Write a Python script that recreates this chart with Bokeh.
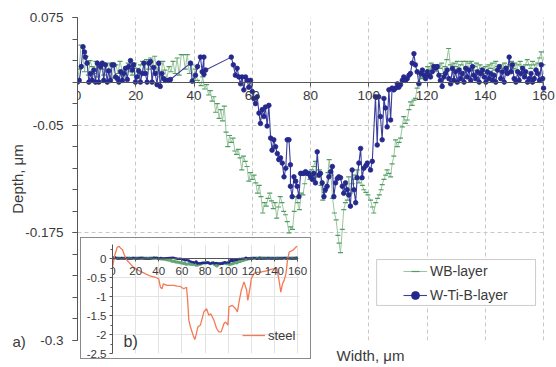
from bokeh.plotting import figure
from bokeh.models import (FixedTicker, Legend, LegendItem, Label, BoxAnnotation, Range1d)
from bokeh.embed import file_html
from bokeh.resources import INLINE

FONT = "Liberation Sans"

# ---------------- data ----------------
x_ticks = [0, 20, 40, 60, 80, 100, 120, 140, 160]
y_ticks = [0.075, -0.05, -0.175, -0.3]
y_tick_labels = ["0.075", "-0.05", "-0.175", "-0.3"]
inset_y_ticks = [0, -0.5, -1, -1.5, -2, -2.5]
inset_y_labels = ["0", "-0.5", "-1", "-1.5", "-2", "-2.5"]

wb_x = [
    0, 0.6, 1.2, 1.8, 2.4, 3.0, 3.7, 4.3, 5.0, 5.6,
    6.3, 7.0, 7.6, 8.3, 9.0, 9.7, 10.4, 11.1, 11.8, 12.5,
    13.2, 13.9, 14.6, 15.3, 16.0, 16.7, 17.4, 18.1, 18.8, 19.5,
    20.2, 20.9, 21.6, 22.3, 23.0, 23.7, 24.4, 25.1, 25.8, 26.5,
    27.2, 27.9, 28.6, 29.3, 30.0, 30.7, 31.4, 32.1, 32.8, 33.5,
    34.2, 34.9, 35.6, 36.3, 37.0, 37.7, 38.4, 39.1, 39.8, 40.5,
    41.2,
    42.4, 43.0, 43.6, 44.3, 45.0, 45.6, 46.2, 46.8, 47.4, 48.0,
    48.6, 49.2, 49.8, 50.4, 51.0, 51.6, 52.2, 52.8, 53.4, 54.0,
    54.6, 55.2, 55.8, 56.4, 57.0, 57.6, 58.2, 58.8, 59.4, 60.0,
    60.6, 61.2, 61.8, 62.4, 63.0, 63.6, 64.2, 64.8, 65.4, 66.0,
    66.6, 67.2, 67.8, 68.4, 69.0, 69.6, 70.2, 70.8, 71.4, 72.0,
    72.6, 73.2, 73.8, 74.4, 75.0, 75.6, 76.2, 76.8, 77.4, 78.0,
    78.6, 79.2, 79.8, 80.4, 81.0, 81.7, 82.4, 83.0, 83.6, 84.2,
    84.8, 85.4, 86.0, 86.4, 87.0, 87.6, 88.2, 88.8, 89.4, 89.8,
    90.3, 90.9, 91.4, 92.0, 92.6, 93.1, 93.7, 94.3, 94.9, 95.5,
    96.0, 96.6, 97.2, 97.8, 98.3, 99.0, 99.7, 100.6, 101.2, 101.7,
    102.4, 103.0, 103.6, 104.2, 104.6, 105.2, 105.8, 106.3, 106.9, 107.5,
    108.0, 108.6, 109.2, 109.8, 110.4, 110.9, 111.5, 112.0, 112.6, 113.2,
    113.8, 114.3, 114.9, 115.5, 116.0, 116.6, 117.2, 117.8, 118.4, 119.0,
    119.6,
    120.2, 120.8, 121.4, 122.0, 122.6, 123.2, 123.8, 124.4, 125.0, 125.6,
    126.2, 126.8, 127.4, 128.0, 128.6, 129.2, 129.8, 130.4, 131.0, 131.6,
    132.2, 132.8, 133.4, 134.0, 134.6, 135.2, 135.8, 136.4, 137.0, 137.6,
    138.2, 138.8, 139.4, 140.0, 140.6, 141.2, 141.8, 142.4, 143.0, 143.6,
    144.2, 144.8, 145.4, 146.0, 146.6, 147.2, 147.8, 148.4, 149.0, 149.6,
    150.2, 150.8, 151.4, 152.0, 152.6, 153.2, 153.8, 154.4, 155.0, 155.6,
    156.2, 156.8, 157.4, 158.0, 158.6, 159.2, 159.8,
]
wb_y = [
    0.002, 0.015, 0.043, 0.040, 0.012, 0.030, 0.008, 0.025, 0.018, 0.010,
    0.024, 0.006, 0.022, 0.015, 0.008, 0.020, 0.012, 0.022, 0.005, 0.018,
    0.020, 0.010, 0.024, 0.014, 0.006, 0.018, 0.022, 0.012, 0.008, 0.022,
    0.016, 0.006, 0.020, 0.024, 0.010, 0.026, 0.015, 0.028, 0.018, 0.030,
    0.012, 0.020, 0.006, 0.024, 0.014, 0.004, 0.018, 0.012, 0.024, 0.010,
    0.028, 0.008, 0.032, 0.032, 0.015, 0.032, 0.010, 0.020, 0.004, 0.015,
    0.002,
    -0.004, 0.006, -0.008, -0.003, -0.015, -0.010, -0.022, -0.017, -0.035, -0.025,
    -0.042, -0.032, -0.045, -0.028, -0.058, -0.075, -0.062, -0.070, -0.065, -0.080,
    -0.084, -0.078, -0.088, -0.102, -0.086, -0.092, -0.098, -0.115, -0.105, -0.113,
    -0.108, -0.117, -0.129, -0.120, -0.133, -0.152, -0.140, -0.144, -0.135, -0.129,
    -0.138, -0.147, -0.140, -0.158, -0.145, -0.133, -0.140, -0.150, -0.154, -0.162,
    -0.175, -0.168, -0.171, -0.150, -0.133, -0.140, -0.148, -0.129, -0.131, -0.118,
    -0.104, -0.108, -0.113, -0.102, -0.098, -0.092, -0.110, -0.102, -0.120, -0.137,
    -0.128, -0.121, -0.105, -0.090, -0.108, -0.135, -0.152, -0.160, -0.178, -0.187,
    -0.198, -0.171, -0.148, -0.140, -0.137, -0.110, -0.129, -0.118, -0.113, -0.108,
    -0.102, -0.117, -0.112, -0.120, -0.125, -0.128, -0.131, -0.137, -0.145, -0.152,
    -0.140, -0.135, -0.131, -0.125, -0.119, -0.113, -0.108, -0.102, -0.106, -0.110,
    -0.095, -0.086, -0.067, -0.075, -0.070, -0.065, -0.052, -0.040, -0.048, -0.044,
    -0.032, -0.023, -0.027, -0.021, -0.019, -0.007, -0.002, 0.006, 0.004, 0.012,
    0.010,
    0.018, 0.014, 0.022, 0.016, 0.020, 0.012, 0.020, 0.016, 0.022, 0.010,
    0.018, 0.026, 0.039, 0.020, 0.014, 0.022, 0.018, 0.024, 0.016, 0.020,
    0.024, 0.012, 0.024, 0.016, 0.022, 0.024, 0.014, 0.018, 0.022, 0.012,
    0.020, 0.016, 0.010, 0.018, 0.012, 0.020, 0.016, 0.022, 0.014, 0.024,
    0.018, 0.012, 0.020, 0.016, 0.022, 0.018, 0.012, 0.020, 0.024, 0.016,
    0.022, 0.014, 0.020, 0.024, 0.018, 0.012, 0.020, 0.026, 0.020, 0.016,
    0.024, 0.020, 0.014, 0.022, 0.028, 0.035, 0.020,
]

wtib_x = [
    0.0, 0.6, 1.3, 1.9, 2.4, 2.7, 3.3, 3.9, 4.5, 5.0,
    5.6, 6.2, 6.8, 7.3, 7.9, 8.5, 9.0, 9.6, 10.2, 10.7,
    11.3, 11.9, 12.5, 13.1, 13.7, 14.2, 14.8, 15.4, 15.9, 16.5,
    17.1, 17.6, 18.2, 18.8, 19.3, 19.9, 20.4, 21.0, 21.6, 22.2,
    22.8, 23.3, 23.9, 24.5, 25.1, 25.6, 26.2, 26.7, 27.3, 27.9,
    28.4, 29.0, 29.6, 30.2, 31.3, 31.9, 38.8, 39.4, 40.5, 41.2,
    42.2, 42.8, 43.4, 43.4, 44.0, 52.8, 53.5, 54.2, 54.8, 55.4,
    56.0, 56.5, 57.1, 57.7, 58.3, 58.8, 59.4, 60.0, 60.5, 61.1,
    61.7, 62.3, 62.8, 63.4, 64.0, 64.5, 65.1, 65.7, 66.3, 66.8,
    67.4, 68.0, 68.6, 69.1, 69.7, 70.3, 70.9, 71.5, 72.0, 72.6,
    73.1, 73.1, 73.7, 74.3, 74.9, 75.4, 76.0, 76.6, 77.1, 77.7,
    78.3, 78.9, 79.4, 80.0, 80.6, 81.1, 81.7, 82.3, 82.9, 83.4,
    84.0, 84.6, 85.1, 85.7, 86.3, 86.9, 87.5, 88.0, 88.6, 89.2,
    89.7, 90.3, 90.9, 91.4, 92.0, 92.6, 93.1, 93.7, 94.3, 94.9,
    95.5, 96.0, 96.6, 97.2, 97.7, 98.3, 99.0, 99.5, 100.6, 101.2,
    102.3, 102.9, 103.4, 104.0, 104.6, 105.2, 105.7, 106.3, 106.9, 107.5,
    108.0, 108.6, 109.2, 109.8, 110.3, 110.9, 111.5, 112.0, 112.6, 113.2,
    113.8, 114.3, 114.9, 115.5, 116.0, 116.6, 117.2, 117.8, 118.4, 119.0,
    119.5, 120.1, 120.6, 121.2, 121.8, 122.3, 122.9, 123.5, 124.1, 124.6,
    125.2, 125.8, 126.3, 126.9, 127.5, 128.1, 128.7, 129.2, 129.8, 130.4,
    131.0, 131.5, 132.1, 132.7, 133.3, 133.8, 134.4, 135.0, 135.6, 136.1,
    136.7, 137.3, 137.9, 138.4, 139.0, 139.6, 140.2, 140.7, 141.3, 141.9,
    142.5, 143.0, 143.6, 144.2, 144.8, 145.3, 145.9, 146.5, 147.1, 147.6,
    148.2, 148.8, 149.3, 149.9, 150.5, 151.1, 151.6, 152.2, 152.8, 153.4,
    153.9, 154.5, 155.1, 155.7, 156.2, 156.8, 157.4, 158.0, 158.6, 159.2,
    159.7, 160.0,
]
wtib_y = [
    0.0, 0.002, 0.018, 0.041, 0.035, 0.029, 0.022, 0.0, 0.010, 0.002,
    0.014, 0.0, 0.022, 0.0, 0.018, 0.022, 0.002, 0.020, 0.0, 0.013,
    0.002, 0.020, 0.020, 0.006, 0.004, 0.0, 0.012, 0.002, 0.010, 0.016,
    0.003, 0.018, 0.025, 0.014, 0.020, 0.0, 0.006, 0.013, 0.0, 0.010,
    0.022, 0.010, 0.0, 0.022, 0.024, 0.0, 0.017, 0.010, -0.003, 0.022,
    -0.005, 0.010, 0.004, 0.002, 0.002, 0.003, 0.022, 0.001, 0.008, 0.018,
    0.029, 0.012, 0.029, 0.009, 0.014, 0.029, 0.020, 0.008, 0.016, 0.006,
    -0.002, 0.006, -0.009, 0.006, 0.002, -0.006, 0.002, -0.011, -0.019, -0.025,
    -0.017, -0.036, -0.048, -0.032, -0.040, -0.029, -0.051, -0.027, -0.065, -0.079,
    -0.067, -0.075, -0.083, -0.090, -0.088, -0.094, -0.110, -0.100, -0.067, -0.067,
    -0.096, -0.121, -0.133, -0.110, -0.115, -0.121, -0.133, -0.106, -0.106, -0.106,
    -0.104, -0.106, -0.106, -0.110, -0.113, -0.106, -0.117, -0.081, -0.108, -0.106,
    -0.117, -0.133, -0.125, -0.121, -0.110, -0.104, -0.098, -0.133, -0.117, -0.112,
    -0.110, -0.111, -0.121, -0.129, -0.117, -0.125, -0.131, -0.144, -0.102, -0.125,
    -0.140, -0.111, -0.094, -0.077, -0.111, -0.100, -0.097, -0.094, -0.102, -0.092,
    -0.017, -0.073, -0.017, -0.040, -0.067, -0.019, -0.030, -0.052, -0.009, -0.044,
    -0.007, -0.009, -0.007, -0.002, -0.006, -0.003, 0.002, 0.006, 0.002, 0.004,
    0.008, 0.010, 0.022, 0.033, 0.020, 0.012, -0.002, 0.010, 0.014, 0.008,
    0.004, 0.012, 0.008, 0.006, 0.012, 0.018, 0.016, 0.018, 0.008, 0.002,
    -0.005, 0.006, 0.010, 0.014, 0.004, -0.002, 0.016, 0.002, 0.012, 0.0,
    0.014, 0.004, 0.010, 0.0, 0.016, 0.006, 0.014, 0.002, 0.018, 0.008,
    0.004, 0.012, 0.0, 0.010, 0.014, 0.006, 0.0, 0.012, 0.004, 0.010,
    0.002, 0.008, 0.0, 0.014, 0.018, 0.004, 0.012, 0.0, 0.016, 0.010,
    0.029, 0.012, 0.020, 0.004, 0.0, 0.012, 0.002, 0.010, 0.016, 0.006,
    0.012, 0.0, 0.004, 0.010, 0.0, 0.004, 0.014, 0.010, 0.002, 0.020,
    0.004, -0.007,
]

steel_x = [
    0, 2, 4, 5.8, 7, 8.7, 10, 12, 15, 18,
    21, 24, 27, 30, 33, 35.6, 38, 40, 41.4, 42.8,
    44, 47, 50, 53, 56, 58.7, 61.6, 64, 65, 66,
    67.4, 69.7, 71.2, 72.6, 73.8, 76, 79, 81.3, 83.3, 85,
    87.7, 90, 92, 94, 96.4, 97.8, 99.8, 100.7, 103.6, 106.5,
    108, 109.4, 111.4, 113.7, 116, 117, 119, 120, 122.4, 125,
    128, 131, 134, 137, 139.8, 142, 144, 145.5, 147, 148.4,
    150, 151.3, 152.8, 155.7, 157, 159.4,
]
steel_y = [
    -0.22, 0.1, 0.3, 0.33, 0.28, 0.24, 0.12, -0.02, -0.12, -0.22,
    -0.28, -0.33, -0.37, -0.42, -0.46, -0.48, -0.5, -0.53, -0.75, -0.79,
    -0.66, -0.7, -0.7, -0.7, -0.72, -0.73, -0.79, -0.75, -1.1, -1.62,
    -1.8, -2.02, -2.13, -1.97, -1.8, -1.75, -1.4, -1.32, -1.49, -1.45,
    -1.62, -1.84, -1.93, -1.93, -1.71, -1.67, -1.75, -1.27, -1.23, -1.32,
    -1.4, -1.14, -0.83, -0.61, -0.83, -1.1, -0.75, -0.53, -0.38, -0.36,
    -0.35, -0.33, -0.31, -0.28, -0.26, -0.24, -0.57, -0.88, -0.66, -0.57,
    -0.39, -0.04, 0.18, 0.22, 0.26, 0.33,
]

assert len(wb_x) == len(wb_y)
assert len(wtib_x) == len(wtib_y)
assert len(steel_x) == len(steel_y)

# ---------------- colours ----------------
GREEN_LINE = "#9cc49f"
GREEN_MARK = "#4f9d62"
BLUE_LINE = "#3b3e9c"
BLUE_MARK = "#25288c"
STEEL = "#f47a56"
TXT = "#3a3a3a"
AX = "#555555"

# ---------------- main figure ----------------
# x range runs a little past 160 so the "160" tick label is not clipped
p = figure(width=556, height=367, x_range=Range1d(0, 164.1), y_range=Range1d(-0.3, 0.075),
           output_backend="svg", toolbar_location=None,
           min_border_left=77, min_border_right=1, min_border_top=17, min_border_bottom=27)
p.background_fill_color = "white"
p.border_fill_color = "white"
p.outline_line_color = None

xa = p.xaxis[0]
xa.fixed_location = 0
xa.bounds = (0, 160)
xa.ticker = FixedTicker(ticks=x_ticks)
xa.axis_line_color = AX
xa.major_tick_line_color = AX
xa.major_tick_out = 4
xa.major_tick_in = 0
xa.minor_tick_line_color = None
xa.major_label_standoff = 5
xa.major_label_text_font = FONT
xa.major_label_text_font_size = "13.5px"
xa.major_label_text_color = TXT

minor_y = [round(-0.3 + 0.025 * i, 3) for i in range(16)]
ya = p.yaxis[0]
ya.ticker = FixedTicker(ticks=y_ticks, minor_ticks=minor_y)
ya.major_label_overrides = dict(zip(y_ticks, y_tick_labels))
ya.axis_line_color = AX
ya.major_tick_line_color = AX
ya.minor_tick_line_color = AX
ya.major_tick_out = 5
ya.major_tick_in = 0
ya.minor_tick_out = 5
ya.minor_tick_in = 0
ya.major_label_standoff = 9
ya.major_label_text_font = FONT
ya.major_label_text_font_size = "13.5px"
ya.major_label_text_color = TXT
ya.axis_label = "Depth, μm"
ya.axis_label_text_font = FONT
ya.axis_label_text_font_size = "15px"
ya.axis_label_text_font_style = "normal"
ya.axis_label_text_color = TXT
ya.axis_label_standoff = -4

p.xgrid[0].bounds = (0, 160)
p.ygrid[0].cross_bounds = (0, 160)
for g in (p.xgrid[0], p.ygrid[0]):
    g.grid_line_color = "#c8c8c8"
    g.grid_line_dash = "4 3"
    g.grid_line_width = 1

r_wb_line = p.line(wb_x, wb_y, line_color=GREEN_LINE, line_width=1)
r_wb_pts = p.scatter(wb_x, wb_y, marker="dash", size=5, line_color=GREEN_MARK, line_width=1.2)
r_wt_line = p.line(wtib_x, wtib_y, line_color=BLUE_LINE, line_width=1.1)
r_wt_pts = p.scatter(wtib_x, wtib_y, marker="circle", size=4.6, fill_color=BLUE_MARK,
                     line_color=BLUE_MARK, line_width=0.8)

# legend frame + legend
p.add_layout(BoxAnnotation(left=102.7, right=157.25, top=-0.206, bottom=-0.2593,
                           fill_color="white", fill_alpha=1.0,
                           line_color="#555555", line_width=1))
leg = Legend(items=[LegendItem(label="WB-layer", renderers=[r_wb_line, r_wb_pts]),
                    LegendItem(label="W-Ti-B-layer", renderers=[r_wt_line, r_wt_pts])],
             location=(326, 35), border_line_color=None, background_fill_alpha=0,
             padding=0, margin=0, spacing=4, glyph_width=24, glyph_height=20,
             label_height=20, label_standoff=3,
             label_text_font=FONT, label_text_font_size="14px", label_text_color=TXT)
p.add_layout(leg)

# ---------------- inset ----------------
ins = figure(width=231, height=122, x_range=Range1d(0, 171.2), y_range=Range1d(-2.5, 0.3775),
             output_backend="svg", toolbar_location=None,
             min_border_left=31, min_border_right=2, min_border_top=6, min_border_bottom=7,
             styles={"position": "absolute", "left": "80px", "top": "237px",
                     "border": "1px solid #8a8a8a", "z-index": "5"})
ins.background_fill_color = "white"
ins.border_fill_color = "white"
ins.outline_line_color = None

ixa = ins.xaxis[0]
ixa.fixed_location = 0
ixa.bounds = (0, 160)
ixa.ticker = FixedTicker(ticks=x_ticks)
ixa.axis_line_color = AX
ixa.major_tick_line_color = AX
ixa.major_tick_out = 3
ixa.major_tick_in = 0
ixa.minor_tick_line_color = None
ixa.major_label_standoff = 5
ixa.major_label_text_font = FONT
ixa.major_label_text_font_size = "11.5px"
ixa.major_label_text_color = TXT

minor_iy = [-2.25, -1.75, -1.25, -0.75, -0.25, 0.25]
iya = ins.yaxis[0]
iya.ticker = FixedTicker(ticks=inset_y_ticks, minor_ticks=minor_iy)
iya.major_label_overrides = dict(zip(inset_y_ticks, inset_y_labels))
iya.axis_line_color = AX
iya.major_tick_line_color = AX
iya.minor_tick_line_color = AX
iya.major_tick_out = 3
iya.major_tick_in = 0
iya.minor_tick_out = 2
iya.minor_tick_in = 0
iya.major_label_standoff = 3
iya.major_label_text_font = FONT
iya.major_label_text_font_size = "11.5px"
iya.major_label_text_color = TXT

ins.ygrid[0].cross_bounds = (0, 162)
for g in (ins.xgrid[0], ins.ygrid[0]):
    g.grid_line_color = "#e3e3e3"
    g.grid_line_width = 1

ins.line(wb_x, wb_y, line_color="#5fa873", line_width=3)
ins.line(wtib_x, wtib_y, line_color=BLUE_MARK, line_width=2.2)
r_steel = ins.line(steel_x, steel_y, line_color=STEEL, line_width=1.3)

ins_leg = Legend(items=[LegendItem(label="steel", renderers=[r_steel])],
                 location=(130, 8), border_line_color=None, background_fill_alpha=0,
                 padding=0, margin=0, glyph_width=23, glyph_height=20, label_height=20,
                 label_standoff=3, label_text_font=FONT, label_text_font_size="13px",
                 label_text_color=TXT)
ins.add_layout(ins_leg)
ins.add_layout(Label(x=9.5, y=-2.18, text="b)", text_align="left", text_baseline="middle",
                     text_font=FONT, text_font_size="16px", text_color=TXT))

# ---------------- transparent text layer (page-pixel coordinates) ----------------
ov = figure(width=556, height=367, x_range=Range1d(0, 556), y_range=Range1d(367, 0),
            output_backend="svg", toolbar_location=None,
            x_axis_location=None, y_axis_location=None,
            min_border_left=0, min_border_right=0, min_border_top=0, min_border_bottom=0,
            styles={"position": "absolute", "left": "0px", "top": "0px", "z-index": "6",
                    "pointer-events": "none"})
ov.background_fill_alpha = 0
ov.border_fill_alpha = 0
ov.outline_line_color = None
ov.grid.visible = False
ov.add_layout(Label(x=370, y=355, text="Width, μm", text_align="center",
                    text_baseline="middle", text_font=FONT, text_font_size="15px",
                    text_color=TXT))
ov.add_layout(Label(x=12, y=340.5, text="a)", text_align="left",
                    text_baseline="middle", text_font=FONT, text_font_size="15px",
                    text_color=TXT))

open("out.html", "w").write(file_html([p, ins, ov], INLINE))
